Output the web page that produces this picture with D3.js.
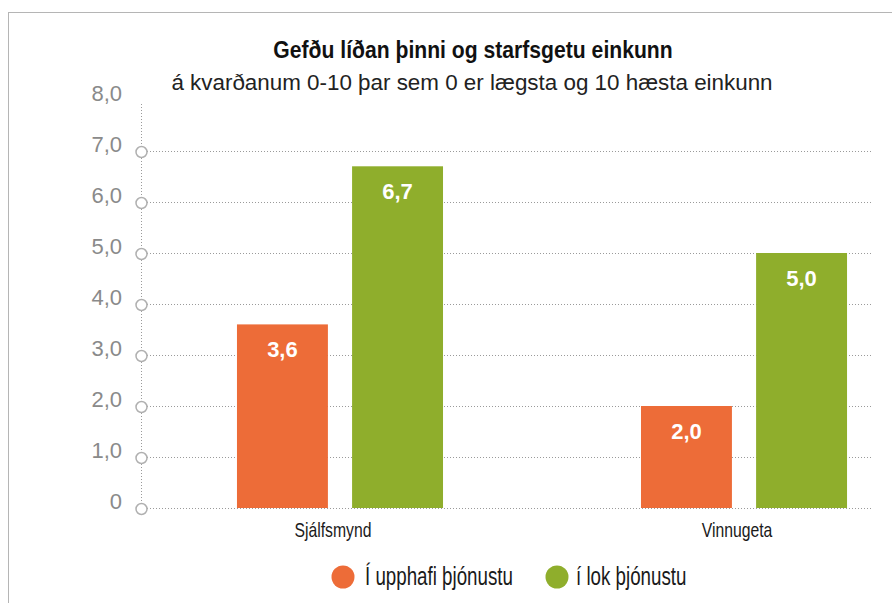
<!DOCTYPE html>
<html>
<head>
<meta charset="utf-8">
<script src="https://cdn.jsdelivr.net/npm/d3@7"></script>
<style>
  html, body { margin: 0; padding: 0; background: #fff; }
  svg { display: block; }
</style>
</head>
<body>
<svg id="chart" width="892" height="603"></svg>
<script>
// ---- data ----
const categories = ["Sjálfsmynd", "Vinnugeta"];
const seriesNames = ["Í upphafi þjónustu", "í lok þjónustu"];
const startValues = [3.6, 2.0];
const endValues = [6.7, 5.0];
const yTicks = [0, 1, 2, 3, 4, 5, 6, 7, 8];
const yTickLabels = ["0", "1,0", "2,0", "3,0", "4,0", "5,0", "6,0", "7,0", "8,0"];
const titleText = "Gefðu líðan þinni og starfsgetu einkunn";
const subtitleText = "á kvarðanum 0-10 þar sem 0 er lægsta og 10 hæsta einkunn";

// ---- styles ----
const colors = ["#ed6c38", "#8fae2c"];
const sans = "'Liberation Sans', Arial, sans-serif";
const narrowScale = 0.75;

const svg = d3.select("#chart");

// frame
svg.append("rect")
  .attr("x", 8.5).attr("y", 12.5)
  .attr("width", 1000).attr("height", 1000)
  .attr("fill", "none").attr("stroke", "#b5b5b5").attr("stroke-width", 1);

// titles
svg.append("text")
  .attr("transform", "translate(473,58) scale(0.92,1)")
  .attr("text-anchor", "middle")
  .style("font-family", sans).style("font-weight", "bold").style("font-size", "23px")
  .attr("fill", "#111")
  .text(titleText);
svg.append("text")
  .attr("x", 472).attr("y", 90)
  .attr("text-anchor", "middle")
  .style("font-family", sans).style("font-size", "22.4px")
  .attr("fill", "#222")
  .text(subtitleText);

// scales
const axisX = 141;
const gridRight = 872;
const y = d3.scaleLinear().domain([0, 8]).range([508, 100]);
const x0 = d3.scaleBand().domain(categories).range([140, 944]).paddingInner(0.49).paddingOuter(0.24);
const x1 = d3.scaleBand().domain(seriesNames).range([0, x0.bandwidth()]).paddingInner(0.21);

// gridlines
svg.append("g").selectAll("line")
  .data(yTicks.filter(t => t < 8))
  .join("line")
  .attr("x1", axisX).attr("x2", gridRight)
  .attr("y1", d => y(d) + 0.5).attr("y2", d => y(d) + 0.5)
  .attr("stroke", "#9a9a9a").attr("stroke-width", 1)
  .attr("stroke-dasharray", "1,2");

// y axis (custom styled)
const yAxis = d3.axisLeft(y).tickValues(yTicks)
  .tickFormat((d, i) => yTickLabels[i]).tickSize(0).tickPadding(19);
const gAxis = svg.append("g").attr("transform", `translate(${axisX},0)`).call(yAxis);
gAxis.select(".domain")
  .attr("d", `M0.5,${y(8) + 4}V${y(0)}`)
  .attr("stroke", "#9a9a9a").attr("stroke-dasharray", "1,2");
gAxis.selectAll(".tick text")
  .attr("dy", 0)
  .style("font-family", sans).style("font-size", "22px")
  .attr("fill", "#8a8a8a");
gAxis.selectAll(".tick").filter(d => d < 8)
  .append("circle")
  .attr("cx", 0.5).attr("cy", 0.5).attr("r", 5.5)
  .attr("fill", "#fff").attr("stroke", "#b0b0b0").attr("stroke-width", 1.5);

// bars
const groups = svg.append("g").selectAll("g")
  .data(categories.map((c, i) => ({ cat: c, vals: [startValues[i], endValues[i]] })))
  .join("g")
  .attr("transform", d => `translate(${x0(d.cat)},0)`);

const fmt = v => d3.format(".1f")(v).replace(".", ",");

groups.selectAll("rect")
  .data(d => d.vals.map((v, j) => ({ s: seriesNames[j], v, j })))
  .join("rect")
  .attr("x", d => x1(d.s))
  .attr("y", d => y(d.v))
  .attr("width", x1.bandwidth())
  .attr("height", d => y(0) - y(d.v))
  .attr("fill", d => colors[d.j]);

groups.selectAll("text.val")
  .data(d => d.vals.map((v, j) => ({ s: seriesNames[j], v, j })))
  .join("text")
  .attr("class", "val")
  .attr("x", d => x1(d.s) + x1.bandwidth() / 2)
  .attr("y", d => y(d.v) + 33)
  .attr("text-anchor", "middle")
  .style("font-family", sans).style("font-weight", "bold").style("font-size", "22px")
  .attr("fill", "#fff")
  .text(d => fmt(d.v));

// category labels (condensed)
svg.append("g").selectAll("text")
  .data(categories)
  .join("text")
  .attr("transform", d => `translate(${x0(d) + x0.bandwidth() / 2 - 7},537) scale(${narrowScale},1)`)
  .attr("text-anchor", "middle")
  .style("font-family", sans).style("font-size", "21px")
  .attr("fill", "#1a1a1a")
  .text(d => d);

// legend
const legendX = [343, 557];
const legend = svg.append("g").selectAll("g")
  .data(seriesNames)
  .join("g")
  .attr("transform", (d, i) => `translate(${legendX[i]},577)`);
legend.append("circle").attr("r", 11.5).attr("fill", (d, i) => colors[i]);
legend.append("text")
  .attr("transform", (d, i) => `translate(${i === 0 ? 22 : 19},8) scale(${narrowScale},1)`)
  .style("font-family", sans).style("font-size", "25px")
  .attr("fill", "#1a1a1a")
  .text(d => d);
</script>
</body>
</html>
